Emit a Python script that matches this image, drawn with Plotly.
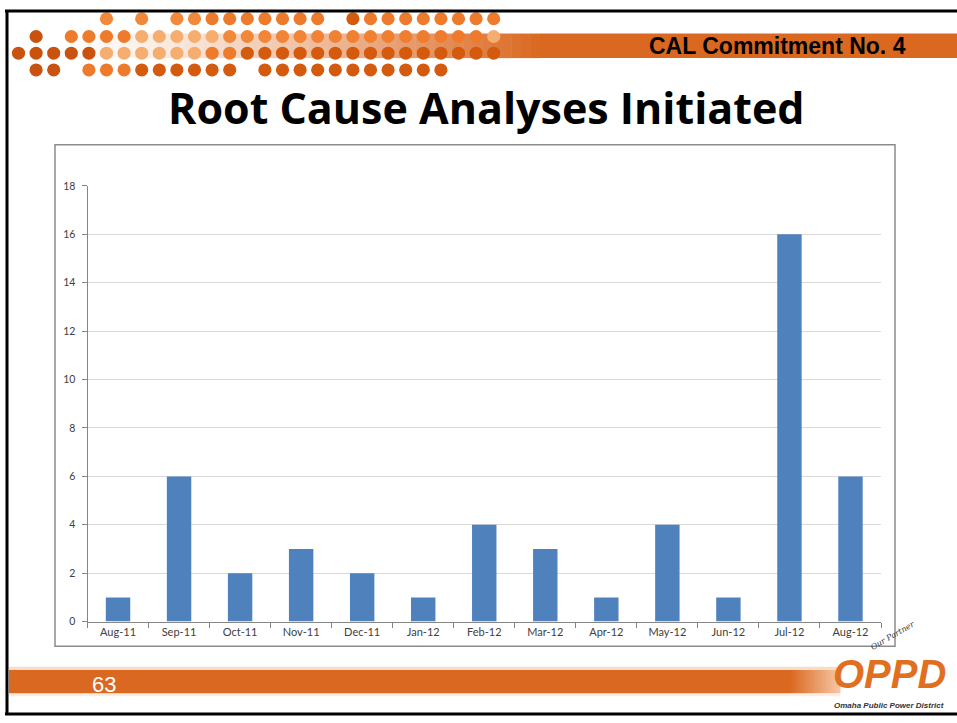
import plotly.graph_objects as go

# Monthly counts of root cause analyses initiated
months = ["Aug-11", "Sep-11", "Oct-11", "Nov-11", "Dec-11", "Jan-12", "Feb-12",
          "Mar-12", "Apr-12", "May-12", "Jun-12", "Jul-12", "Aug-12"]
rca_initiated = [1, 6, 2, 3, 2, 1, 4, 3, 1, 4, 1, 16, 6]
y_ticks = [0, 2, 4, 6, 8, 10, 12, 14, 16, 18]

slide_title = "Root Cause Analyses Initiated"
banner_text = "CAL Commitment No. 4"
page_number = "63"

W, H = 957, 723
ORANGE = "#DB6820"
BAR_BLUE = "#4F81BD"
AXIS_GRAY = "#868686"
GRID_GRAY = "#D9D9D9"


def px(x):
    return x / W


def py(y):
    return 1 - y / H


def rect(x0, y0, x1, y1, **kw):
    return dict(type="rect", xref="paper", yref="paper",
                x0=px(x0), x1=px(x1), y0=py(y1), y1=py(y0), **kw)


def mix(c1, c2, t):
    a = [int(c1[i:i + 2], 16) for i in (1, 3, 5)]
    b = [int(c2[i:i + 2], 16) for i in (1, 3, 5)]
    return "#" + "".join(f"{round(a[i] + (b[i] - a[i]) * t):02x}" for i in range(3))


shapes = []

# --- top banner: fading band behind the dots, then a solid orange strip
steps = 50
x_start, x_end = 60, 540
for i in range(steps):
    xa = x_start + (x_end - x_start) * i / steps
    xb = x_start + (x_end - x_start) * (i + 1) / steps
    t = ((i + 0.5) / steps) ** 1.3
    col = mix("#FFFFFF", ORANGE, t)
    shapes.append(rect(xa, 28, xb + 0.5, 53, fillcolor=col, line_width=0, layer="below"))
shapes.append(rect(540, 28, W, 53, fillcolor=ORANGE, line_width=0, layer="below"))

# --- decorative dot rows
DARK = "#C9520E"
DEEP = "#D45A0E"
MID = "#EE7A2C"
BRIGHT = "#F2893A"
LIGHT = "#F6AE70"
spacing = 17.6
x0_dot = 18.5
r = 6.6
rows = [
    (13, [5, 7] + list(range(9, 18)) + list(range(19, 28))),
    (31, [1] + list(range(3, 28))),
    (48, list(range(0, 28))),
    (65, [1, 2] + list(range(4, 13)) + list(range(14, 25))),
]


def dot_color(row_y, x):
    if row_y == 13:
        if 340 < x < 360:
            return DEEP
        return BRIGHT if x < 200 else MID
    if row_y == 31:
        if x < 50:
            return DARK
        if x < 130:
            return MID
        if x < 220:
            return LIGHT
        if x < 480:
            return mix(BRIGHT, MID, (x - 220) / 260)
        return LIGHT
    if row_y == 48:
        if x < 95:
            return DARK
        if x < 200:
            return LIGHT
        if x < 230:
            return MID
        return DEEP
    if x < 60:
        return DARK
    if x < 130:
        return MID
    return DEEP


for row_y, ks in rows:
    for k in ks:
        cx = x0_dot + spacing * k
        shapes.append(dict(type="circle", xref="paper", yref="paper",
                           x0=px(cx - r), x1=px(cx + r), y0=py(row_y + r), y1=py(row_y - r),
                           fillcolor=dot_color(row_y, cx), line_width=0))

# --- footer strip, fading out under the logo
shapes.append(rect(9, 675, 790, 699, fillcolor=ORANGE, line_width=0, layer="below"))
for i in range(20):
    xa = 790 + 50 * i / 20
    xb = 790 + 50 * (i + 1) / 20
    col = mix(ORANGE, "#F6C7A6", (i + 0.5) / 20)
    shapes.append(rect(xa, 675, xb + 0.5, 699, fillcolor=col, line_width=0, layer="below"))
shapes.append(rect(9, 672, 840, 675, fillcolor="#F8DCC8", line_width=0, layer="below"))
shapes.append(rect(9, 699, 840, 702, fillcolor="#FCEDE3", line_width=0, layer="below"))

# --- chart frame
shapes.append(rect(55, 141, 895, 651, fillcolor="rgba(0,0,0,0)",
                   line=dict(color="#8C8C8C", width=1.5)))

# --- slide border (top, left, bottom)
shapes.append(dict(type="line", xref="paper", yref="paper", x0=px(5), x1=1,
                   y0=py(5), y1=py(5), line=dict(color="black", width=3)))
shapes.append(dict(type="line", xref="paper", yref="paper", x0=px(7), x1=px(7),
                   y0=py(4), y1=py(721), line=dict(color="black", width=3)))
shapes.append(dict(type="line", xref="paper", yref="paper", x0=px(5), x1=1,
                   y0=py(720), y1=py(720), line=dict(color="black", width=3)))

annotations = [
    dict(text=f"<b>{banner_text}</b>", xref="paper", yref="paper", x=px(908), y=py(41),
         xanchor="right", yanchor="middle", showarrow=False,
         font=dict(family="Liberation Sans, Arial", size=23, color="black")),
    dict(text=f"<b>{slide_title}</b>", xref="paper", yref="paper", x=px(487), y=py(103),
         xanchor="center", yanchor="middle", showarrow=False,
         font=dict(family="Open Sans, sans-serif", size=43, color="black")),
    dict(text=page_number, xref="paper", yref="paper", x=px(104), y=py(690),
         xanchor="center", yanchor="middle", showarrow=False,
         font=dict(family="Liberation Sans, Arial", size=22, color="white")),
    dict(text="<b><i>OPPD</i></b>", xref="paper", yref="paper", x=px(889), y=py(679),
         xanchor="center", yanchor="middle", showarrow=False,
         font=dict(family="Liberation Sans Narrow, Liberation Sans, Arial", size=40, color="#E0701F")),
    dict(text="<b><i>Omaha Public Power District</i></b>", xref="paper", yref="paper",
         x=px(889), y=py(711), xanchor="center", yanchor="middle", showarrow=False,
         font=dict(family="Liberation Sans Narrow, Liberation Sans, Arial", size=8, color="#333333")),
    dict(text="<i>Our Partner</i>", xref="paper", yref="paper", x=px(893), y=py(640),
         xanchor="center", yanchor="middle", showarrow=False, textangle=-30,
         font=dict(family="DejaVu Serif, serif", size=8, color="#333333")),
]

fig = go.Figure(go.Bar(x=months, y=rca_initiated, marker=dict(color=BAR_BLUE, line_width=0)))

fig.update_layout(
    width=W, height=H,
    margin=dict(l=0, r=0, t=0, b=0),
    paper_bgcolor="white", plot_bgcolor="white",
    bargap=0.6, showlegend=False,
    shapes=shapes, annotations=annotations,
    xaxis=dict(domain=[px(87.5), px(881)], type="category",
               showline=True, linecolor=AXIS_GRAY, linewidth=1,
               ticks="outside", tickson="boundaries", ticklen=5, tickcolor=AXIS_GRAY,
               showgrid=False, tickfont=dict(family="Lato, Carlito, sans-serif", size=11, color="#404040")),
    yaxis=dict(domain=[py(626), py(183)], range=[0, 18], tickvals=y_ticks,
               showline=True, linecolor=AXIS_GRAY, linewidth=1,
               ticks="outside", ticklen=5, tickcolor=AXIS_GRAY,
               ticklabelstandoff=4,
               showgrid=True, gridcolor=GRID_GRAY, gridwidth=1, zeroline=False,
               tickfont=dict(family="Lato, Carlito, sans-serif", size=10.5, color="#404040")),
)

fig.write_html("out.html", post_script="document.body.style.margin='0';")
